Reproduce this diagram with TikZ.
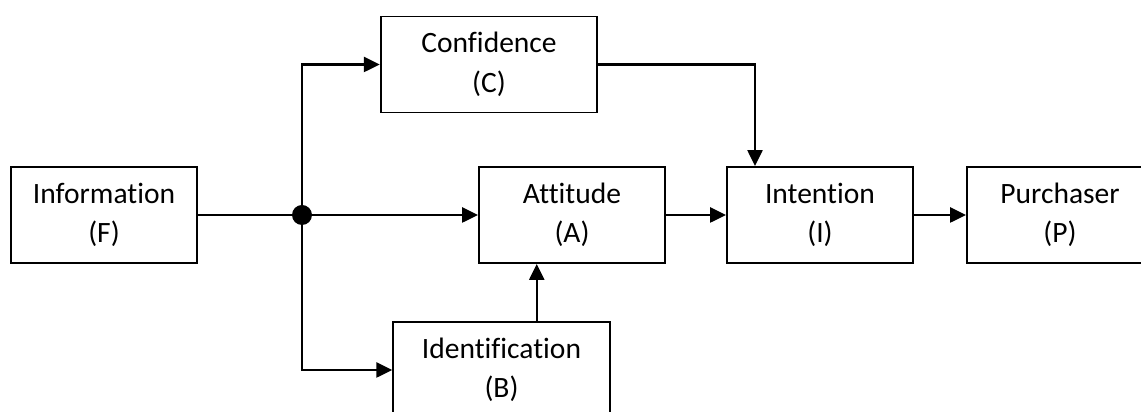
\documentclass[tikz,border=0pt]{standalone}
\usepackage{fontspec}
\setmainfont[Ligatures=NoCommon]{Carlito}
\usepackage{xcolor}
\usetikzlibrary{arrows.meta,positioning,calc}
\definecolor{primary}{RGB}{0,0,0}
\tikzset{
  flowbox/.style={rectangle, draw=primary, line width=1.1pt, fill=white,
                  align=center, font=\fontsize{16.8}{22.5}\selectfont,
                  inner sep=0pt, minimum width=37.2mm, minimum height=19.2mm},
  flowboxwide/.style={flowbox, minimum width=43.3mm},
  arr/.style={-{Triangle[length=9pt,width=8.5pt]}, line width=1.2pt, color=primary},
  ln/.style={line width=1.2pt, color=primary},
  junction/.style={circle, fill=primary, inner sep=0pt, minimum size=4mm},
}
\begin{document}
\begin{tikzpicture}
  \useasboundingbox (0,0) rectangle (22.82,-8.24);
  % blocks
  \node[flowbox] (F) at (2.08,-4.30) {Information\\(F)};
  \node[flowboxwide] (C) at (9.78,-1.29) {Confidence\\(C)};
  \node[flowbox] (A) at (11.44,-4.30) {Attitude\\(A)};
  \node[flowbox] (I) at (16.40,-4.30) {Intention\\(I)};
  \node[flowbox] (P) at (21.20,-4.30) {Purchaser\\(P)};
  \node[flowboxwide] (B) at (10.03,-7.40) {Identification\\(B)};
  \node[junction] (dot) at (6.04,-4.30) {};
  \coordinate (ab) at ($(A.south)!0.5!(B.north)$);
  % connectors
  \draw[ln] (F.east) -- (dot.center);
  \draw[arr] (dot.center) -- (A.west);
  \draw[arr] (dot.center) |- (C.west);
  \draw[arr] (dot.center) |- (B.west);
  \draw[arr] (C.east) -| ([xshift=-13mm]I.north);
  \draw[arr] (B.north -| ab) -- (A.south -| ab);
  \draw[arr] (A.east) -- (I.west);
  \draw[arr] (I.east) -- (P.west);
\end{tikzpicture}
\end{document}
